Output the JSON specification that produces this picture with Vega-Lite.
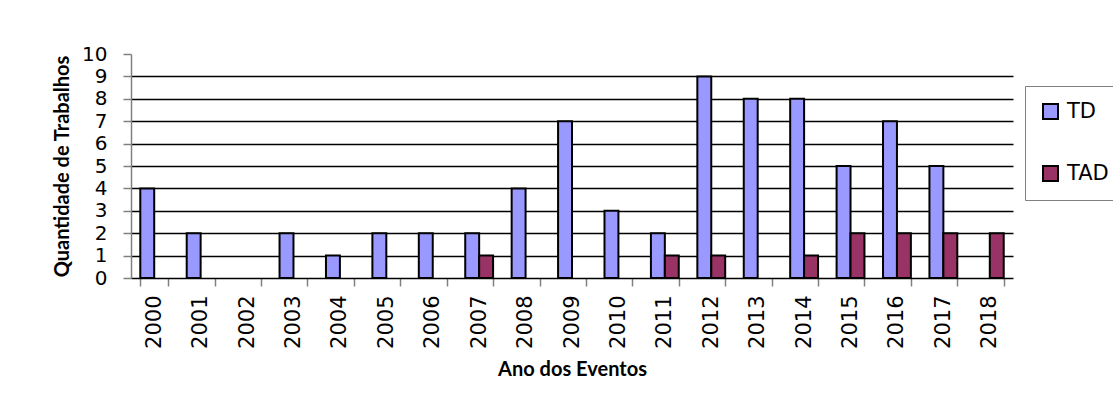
{
  "$schema": "https://vega.github.io/schema/vega-lite/v6.json",
  "width": 882,
  "height": 224,
  "autosize": {"type": "none"},
  "padding": {"left": 131, "top": 54, "right": 100, "bottom": 129},
  "background": "white",
  "data": {
    "values": [
      {"ano": "2000", "serie": "TD", "valor": 4},
      {"ano": "2001", "serie": "TD", "valor": 2},
      {"ano": "2003", "serie": "TD", "valor": 2},
      {"ano": "2004", "serie": "TD", "valor": 1},
      {"ano": "2005", "serie": "TD", "valor": 2},
      {"ano": "2006", "serie": "TD", "valor": 2},
      {"ano": "2007", "serie": "TD", "valor": 2},
      {"ano": "2007", "serie": "TAD", "valor": 1},
      {"ano": "2008", "serie": "TD", "valor": 4},
      {"ano": "2009", "serie": "TD", "valor": 7},
      {"ano": "2010", "serie": "TD", "valor": 3},
      {"ano": "2011", "serie": "TD", "valor": 2},
      {"ano": "2011", "serie": "TAD", "valor": 1},
      {"ano": "2012", "serie": "TD", "valor": 9},
      {"ano": "2012", "serie": "TAD", "valor": 1},
      {"ano": "2013", "serie": "TD", "valor": 8},
      {"ano": "2014", "serie": "TD", "valor": 8},
      {"ano": "2014", "serie": "TAD", "valor": 1},
      {"ano": "2015", "serie": "TD", "valor": 5},
      {"ano": "2015", "serie": "TAD", "valor": 2},
      {"ano": "2016", "serie": "TD", "valor": 7},
      {"ano": "2016", "serie": "TAD", "valor": 2},
      {"ano": "2017", "serie": "TD", "valor": 5},
      {"ano": "2017", "serie": "TAD", "valor": 2},
      {"ano": "2018", "serie": "TAD", "valor": 2}
    ]
  },
  "mark": {"type": "bar", "stroke": "black", "strokeWidth": 2},
  "encoding": {
    "x": {
      "field": "ano",
      "type": "nominal",
      "scale": {
        "domain": ["2000","2001","2002","2003","2004","2005","2006","2007","2008","2009","2010","2011","2012","2013","2014","2015","2016","2017","2018"],
        "paddingInner": 0.4,
        "paddingOuter": 0.2
      },
      "axis": {
        "title": "Ano dos Eventos",
        "labelAngle": -90,
        "labelFont": "DejaVu Sans",
        "labelFontSize": 21,
        "labelColor": "black",
        "tickBand": "extent",
        "grid": false,
        "domainColor": "black",
        "domainWidth": 1.5,
        "tickColor": "#808080",
        "tickWidth": 1.5,
        "tickSize": 8,
        "labelPadding": 9,
        "titlePadding": 11
      }
    },
    "xOffset": {
      "field": "serie",
      "type": "nominal",
      "scale": {"domain": ["TD", "TAD"], "paddingInner": 0, "paddingOuter": 0}
    },
    "y": {
      "field": "valor",
      "type": "quantitative",
      "scale": {"domain": [0, 10], "nice": false},
      "axis": {
        "title": "Quantidade de Trabalhos",
        "values": [0, 1, 2, 3, 4, 5, 6, 7, 8, 9, 10],
        "labelFont": "DejaVu Sans",
        "labelFontSize": 20,
        "labelColor": "black",
        "grid": true,
        "gridColor": "black",
        "gridWidth": 1.5,
        "gridOpacity": {"condition": {"test": "datum.value == 10 || datum.value == 0", "value": 0}, "value": 1},
        "domainColor": "#808080",
        "domainWidth": 1.5,
        "tickColor": "#808080",
        "tickWidth": 1.5,
        "tickSize": 8,
        "labelPadding": 16,
        "titlePadding": 9
      }
    },
    "color": {
      "field": "serie",
      "type": "nominal",
      "scale": {"domain": ["TD", "TAD"], "range": ["#9999FF", "#993366"]},
      "legend": {
        "title": null,
        "orient": "none",
        "legendX": 894,
        "legendY": 32,
        "symbolType": "square",
        "symbolSize": 225,
        "symbolStrokeColor": "black",
        "symbolStrokeWidth": 2,
        "labelFont": "DejaVu Sans",
        "labelFontSize": 21,
        "labelColor": "black",
        "labelOffset": 6,
        "rowPadding": 39,
        "padding": 15,
        "strokeColor": "#808080",
        "fillColor": "white"
      }
    }
  },
  "config": {
    "view": {"stroke": null},
    "axis": {
      "titleFont": "Lato",
      "titleFontSize": 20,
      "titleFontWeight": "bold",
      "titleColor": "black"
    }
  }
}
